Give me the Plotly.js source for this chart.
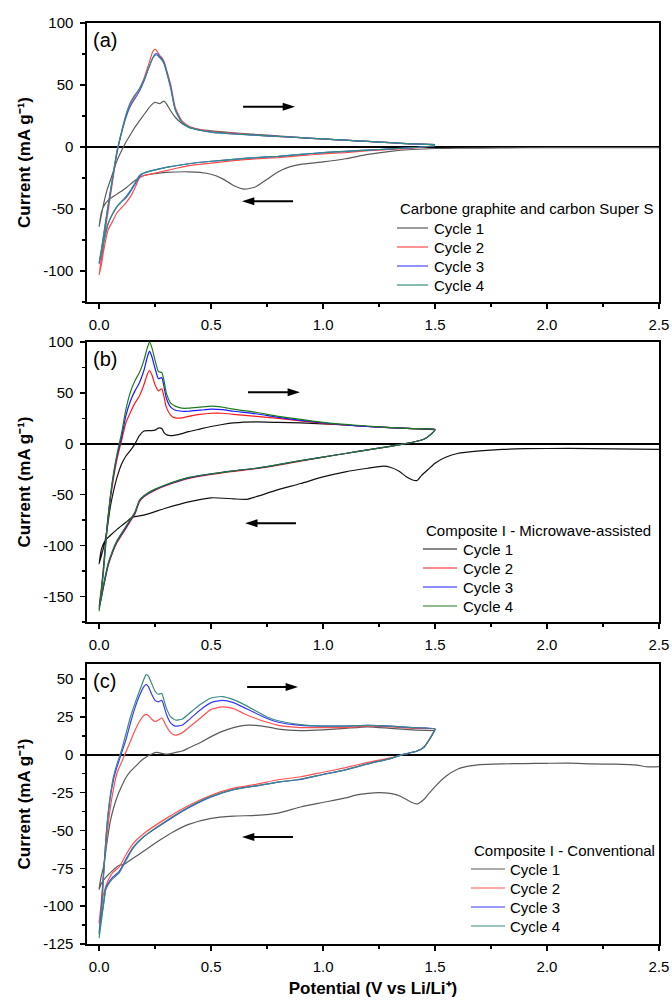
<!DOCTYPE html>
<html><head><meta charset="utf-8">
<script src="https://cdn.plot.ly/plotly-3.0.1.min.js"></script>
<style>html,body{margin:0;padding:0;background:#fff}#chart{width:672px;height:1000px}</style>
</head><body><div id="chart"></div>
<script>
// ---------- DATA ----------
const cycleNames = ['Cycle 1', 'Cycle 2', 'Cycle 3', 'Cycle 4'];
const legendTitles = ['Carbone graphite and carbon Super S', 'Composite I - Microwave-assisted', 'Composite I - Conventional'];
const panelLabels = ['(a)', '(b)', '(c)'];
const yTitle = 'Current (mA g\u207B\u00B9)';
const xTitle = 'Potential (V vs Li/Li\u207A)';
const xTickVals = [0, 0.5, 1, 1.5, 2, 2.5];
const xTickText = ['0.0', '0.5', '1.0', '1.5', '2.0', '2.5'];
const a_yTickVals = [-100, -50, 0, 50, 100];
const a_yTickText = ['-100', '-50', '0', '50', '100'];
const b_yTickVals = [-150, -100, -50, 0, 50, 100];
const b_yTickText = ['-150', '-100', '-50', '0', '50', '100'];
const c_yTickVals = [-125, -100, -75, -50, -25, 0, 25, 50];
const c_yTickText = ['-125', '-100', '-75', '-50', '-25', '0', '25', '50'];

// Panel (a): carbon graphite + Super S
const a_xCath1 = [2.5, 2.2, 2.0, 1.8, 1.6, 1.5, 1.4, 1.3, 1.2, 1.1, 1.0, 0.9, 0.85, 0.8, 0.75, 0.7, 0.65, 0.6, 0.55, 0.5, 0.45, 0.4, 0.3, 0.25, 0.2, 0.16, 0.12, 0.08, 0.04, 0.02, 0.01, 0];
const a_yCath1 = [-0.5, -0.5, -0.5, -0.7, -1, -1.2, -2, -3.5, -6, -9.5, -12, -14, -16, -20, -26, -32, -34, -31, -25.5, -22, -20.5, -20, -20.5, -21.5, -23, -27, -33, -38, -43, -48, -53, -64];
const a_xCath = [1.5, 1.4, 1.3, 1.2, 1.1, 1.0, 0.9, 0.8, 0.7, 0.6, 0.5, 0.4, 0.3, 0.25, 0.2, 0.18, 0.16, 0.14, 0.12, 0.1, 0.08, 0.06, 0.04, 0.02, 0.01, 0];
const a_yCath2 = [1, -1, -2, -3, -4.5, -5.5, -7, -8.5, -9.5, -11, -13, -15, -19, -21, -23, -25, -33, -40, -45, -49, -53, -60, -67, -84, -95, -103];
const a_yCath3 = [1, -0.5, -1.5, -2.5, -3.5, -4.5, -6, -7.5, -8.5, -10, -11.5, -13.5, -16.5, -18.5, -21, -24, -30, -36, -41, -44, -48, -54, -62, -77, -86, -94];
const a_yCath4 = [1, -0.5, -1.5, -2.5, -3.5, -4.5, -6, -7.5, -8.5, -10, -11.5, -13.5, -16.5, -18.5, -21, -23, -29, -35, -40, -44, -48, -54, -62, -77, -86, -93];
const a_xAnod = [0, 0.01, 0.02, 0.035, 0.05, 0.065, 0.08, 0.1, 0.12, 0.14, 0.16, 0.18, 0.2, 0.22, 0.24, 0.25, 0.26, 0.27, 0.28, 0.29, 0.30, 0.32, 0.34, 0.37, 0.40, 0.45, 0.5, 0.6, 0.75, 0.9, 1.0, 1.1, 1.2, 1.3, 1.4, 1.5];
const a_yAnod1 = [-64, -55, -46, -35, -27, -19, -11, -3, 4, 10, 16, 21, 26, 31, 35, 36, 35.5, 35, 36, 37, 35, 29, 24, 19, 16, 14, 13, 11.5, 9.5, 7.5, 6.5, 5.5, 4.5, 3.5, 2.5, 2];
const a_yAnod2 = [-103, -90, -78, -58, -40, -22, -5, 12, 25, 35, 41, 47, 55, 66, 77, 79, 77, 74, 72, 69, 63, 50, 32, 21, 17, 14, 12.5, 11, 9, 7.5, 6.5, 5.5, 4.5, 3.5, 2.5, 2];
const a_yAnod3 = [-94, -84, -72, -54, -37, -20, -4, 11, 24, 33, 39, 45, 53, 63, 72, 75, 75, 73, 71, 68, 62, 48, 30, 20, 16, 13.5, 12, 10.5, 9, 7.5, 6.5, 5.5, 4.5, 3.5, 2.5, 2];
const a_yAnod4 = [-93, -83, -71, -53, -36, -19, -3, 12, 26, 36, 42, 47, 54, 63, 72, 74, 74, 72, 70, 67, 61, 47, 30, 20, 16, 13.5, 12, 10.5, 9, 7.5, 6.5, 5.5, 4.5, 3.5, 2.5, 2];

// Panel (b): Composite I - Microwave-assisted
const b_xCath1 = [2.5, 2.3, 2.1, 1.9, 1.8, 1.7, 1.6, 1.55, 1.5, 1.47, 1.44, 1.42, 1.4, 1.37, 1.34, 1.3, 1.27, 1.2, 1.1, 1.0, 0.9, 0.8, 0.7, 0.66, 0.6, 0.5, 0.4, 0.3, 0.2, 0.15, 0.12, 0.08, 0.05, 0.03, 0.02, 0.01, 0];
const b_yCath1 = [-5.5, -5, -4.5, -4.8, -5.5, -7, -9.5, -13, -19, -25, -31, -36, -35.5, -32, -27, -23, -22, -24, -27.5, -32.5, -39, -45, -52, -54.5, -54, -53, -57, -63, -70, -72, -77, -84, -90, -94, -98, -104, -118];
const b_xCath = [1.5, 1.48, 1.45, 1.4, 1.35, 1.3, 1.2, 1.1, 1.0, 0.9, 0.8, 0.7, 0.6, 0.5, 0.4, 0.3, 0.25, 0.2, 0.18, 0.16, 0.14, 0.12, 0.1, 0.08, 0.06, 0.04, 0.02, 0.01, 0];
const b_yCath2 = [14, 9, 4.5, 1.5, -0.5, -2.5, -6, -9.5, -13, -17, -21, -24.5, -27, -30, -34, -41, -45.5, -52, -57, -69, -76, -83, -90, -97, -107, -120, -140, -151, -160];
const b_yCath3 = [14, 9, 4.5, 1.5, -0.5, -2.5, -6, -9.5, -13, -16.5, -20.5, -24, -26.5, -29.5, -33.5, -40.5, -45, -51.5, -56, -68, -75, -82, -89, -96, -106, -119, -140, -151, -162];
const b_yCath4 = [14, 9, 4.5, 1.5, -0.5, -2.5, -6, -9.5, -13, -16.5, -20.5, -24, -26.5, -29.5, -33, -40, -44.5, -51, -55.5, -67, -74, -81, -88, -95, -105, -118, -138, -150, -164];
const b_xAnod = [0, 0.01, 0.02, 0.035, 0.05, 0.065, 0.08, 0.1, 0.12, 0.14, 0.16, 0.18, 0.2, 0.215, 0.225, 0.235, 0.25, 0.265, 0.28, 0.29, 0.30, 0.32, 0.34, 0.37, 0.4, 0.45, 0.5, 0.55, 0.6, 0.7, 0.8, 0.9, 1.0, 1.1, 1.2, 1.3, 1.4, 1.5];
const b_yAnod1 = [-118, -110, -102, -85, -62, -46, -33, -20, -12, -6.5, 0, 8, 12.5, 13, 13, 13, 13.5, 15.5, 15, 11, 9, 8, 8.5, 10, 12, 14.5, 17, 19, 20.5, 21.5, 21, 20.5, 19.5, 18.5, 17, 16, 15, 14];
const b_yAnod2 = [-160, -142, -120, -83, -55, -33, -15, 3, 21, 31, 40, 47, 58, 68, 72, 68, 58, 52, 54, 46, 36, 28, 25.5, 25.5, 27, 29, 30, 30, 29, 27, 25, 22.5, 20, 18.5, 17, 16, 15, 14];
const b_yAnod3 = [-162, -145, -122, -82, -53, -30, -12, 6, 28, 42, 52, 60, 72, 85, 91, 86, 74, 64, 65, 56, 45, 36, 33, 32, 32, 33, 34, 33.5, 32, 29.5, 26, 23, 20.5, 18.5, 17, 16, 15, 14];
const b_yAnod4 = [-164, -145, -125, -85, -52, -28, -10, 10, 34, 51, 62, 70, 82, 94, 100, 95, 82, 71, 70, 62, 50, 40, 37, 35, 35, 36, 37, 36, 34, 31, 27, 24, 21, 19, 17.5, 16, 15, 14];

// Panel (c): Composite I - Conventional
const c_xCath1 = [2.5, 2.45, 2.4, 2.3, 2.2, 2.1, 2.0, 1.9, 1.8, 1.7, 1.65, 1.6, 1.55, 1.5, 1.47, 1.45, 1.42, 1.39, 1.36, 1.33, 1.3, 1.25, 1.2, 1.15, 1.1, 1.0, 0.9, 0.8, 0.7, 0.6, 0.5, 0.4, 0.33, 0.27, 0.2, 0.15, 0.11, 0.09, 0.06, 0.03, 0.01, 0];
const c_yCath1 = [-7.8, -8, -6.8, -6.2, -6, -5.5, -5.6, -5.8, -6, -6.5, -7.5, -9.5, -14, -21, -26, -29.5, -32.5, -31, -28.5, -26.5, -25.5, -25, -25.5, -26.5, -28.5, -31.5, -34.5, -38.5, -40, -40.5, -42, -46, -51, -56.5, -63.5, -68.5, -72.5, -73, -76.5, -81, -85, -89];
const c_xCath = [1.5, 1.49, 1.47, 1.45, 1.42, 1.38, 1.34, 1.3, 1.2, 1.1, 1.0, 0.9, 0.8, 0.7, 0.6, 0.5, 0.4, 0.3, 0.2, 0.15, 0.12, 0.09, 0.06, 0.04, 0.03, 0.02, 0.01, 0];
const c_yCath2 = [17, 14, 9, 5, 2.5, 1, -0.5, -2, -5, -8.5, -11.5, -14.5, -16.5, -19.5, -22, -26.7, -33.5, -42, -52, -59, -66, -74, -78, -83, -87, -92, -100, -111];
const c_yCath3 = [17, 14, 9, 5, 2.5, 1, -0.5, -2.5, -6, -10, -13, -16.3, -18, -20.5, -23, -27.8, -35, -44, -54, -61.5, -69, -77, -81, -85, -88, -98, -108, -118];
const c_yCath4 = [17, 14, 9, 5, 2.5, 1, -0.5, -2.5, -6, -10, -13, -16, -18, -20.5, -23, -27.5, -34.5, -43.5, -54, -62, -70, -78, -82, -86, -89, -99, -110, -121];
const c_xAnod = [0, 0.01, 0.02, 0.035, 0.05, 0.065, 0.08, 0.1, 0.12, 0.14, 0.16, 0.18, 0.2, 0.21, 0.22, 0.235, 0.25, 0.265, 0.28, 0.29, 0.3, 0.32, 0.34, 0.37, 0.4, 0.45, 0.5, 0.55, 0.6, 0.65, 0.7, 0.75, 0.8, 0.9, 1.0, 1.1, 1.2, 1.3, 1.4, 1.5];
const c_yAnod1 = [-89, -80, -74, -58, -44, -35, -28, -21, -15, -11, -8, -5, -2.5, -1.5, -0.5, 0.5, 1.5, 1.5, 1, 0.6, 0.4, 0.8, 1.5, 2.5, 4.5, 8, 12, 15.5, 18, 19.5, 19.5, 18.5, 17, 16, 16.5, 17.5, 18.5, 17.5, 16.5, 16];
const c_yAnod2 = [-111, -97, -78, -54, -35, -22, -12, -5, 2, 9, 16, 22, 26, 26.7, 26, 23.5, 22, 23, 24.5, 22, 19, 14.5, 13, 14.5, 18, 24, 30, 31.7, 30.5, 27, 24, 21.5, 19.5, 18, 18, 18, 19, 18.5, 17.5, 17];
const c_yAnod3 = [-118, -102, -78, -47, -28, -16, -8, 1, 10, 21, 31, 39, 45, 46.5, 45, 40, 36, 35, 36, 32, 27, 21, 19, 19.5, 23, 29.5, 34.5, 36, 34.5, 31, 27.5, 24, 21.5, 19.5, 19, 19, 19.5, 19, 18, 17];
const c_yAnod4 = [-121, -105, -80, -47, -27, -14, -6, 3, 14, 25, 34, 42, 50, 53, 52, 47, 42, 40, 40.5, 36, 31, 25, 23, 23.5, 27, 33, 37.5, 38.5, 36.5, 33, 29, 25, 22.5, 20, 19, 19, 19.5, 19, 18, 17];

// ---------- STYLE / LAYOUT ----------
const FONT = 'Liberation Sans, Arial, Helvetica, sans-serif';
const W = 672, H = 1000, ML = 87, MR = 13, MT = 23, MB = 56;
const PW = W - ML - MR, PH = H - MT - MB;
const px = v => (v - ML) / PW;
const py = v => (H - MB - v) / PH;

const panels = [
  { top: 23, bottom: 302, range: [-125, 100], ticks: [a_yTickVals, a_yTickText], minor: 25,
    colors: ['#5a5a5a', '#ff4a4a', '#4848ff', '#2f8f80'],
    curves: [[a_xCath1, a_yCath1, a_xAnod, a_yAnod1], [a_xCath, a_yCath2, a_xAnod, a_yAnod2], [a_xCath, a_yCath3, a_xAnod, a_yAnod3], [a_xCath, a_yCath4, a_xAnod, a_yAnod4]],
    arrows: [[0.643, 0.875, 32.5], [0.866, 0.638, -43.8]],
    legend: { x0: 397, x1: 428, tx: 432, titleY: 209, rows: [228, 247, 266, 285] } },
  { top: 342, bottom: 622, range: [-175, 100], ticks: [b_yTickVals, b_yTickText], minor: 25,
    colors: ['#111111', '#ff1a1a', '#1a1aff', '#1f7a1f'],
    curves: [[b_xCath1, b_yCath1, b_xAnod, b_yAnod1], [b_xCath, b_yCath2, b_xAnod, b_yAnod2], [b_xCath, b_yCath3, b_xAnod, b_yAnod3], [b_xCath, b_yCath4, b_xAnod, b_yAnod4]],
    arrows: [[0.665, 0.897, 50.6], [0.879, 0.652, -78]],
    legend: { x0: 423, x1: 457, tx: 461, titleY: 530, rows: [549, 568, 587, 606] } },
  { top: 664, bottom: 944, range: [-125, 60], ticks: [c_yTickVals, c_yTickText], minor: 12.5,
    colors: ['#5a5a5a', '#ff5050', '#3a3aff', '#3a8a80'],
    curves: [[c_xCath1, c_yCath1, c_xAnod, c_yAnod1], [c_xCath, c_yCath2, c_xAnod, c_yAnod2], [c_xCath, c_yCath3, c_xAnod, c_yAnod3], [c_xCath, c_yCath4, c_xAnod, c_yAnod4]],
    arrows: [[0.661, 0.888, 44.8], [0.866, 0.638, -54.3]],
    legend: { x0: 471, x1: 505, tx: 508, titleY: 850, rows: [869, 888, 907, 926] } }
];

const data = [];
const layout = {
  width: W, height: H,
  margin: { l: ML, r: MR, t: MT, b: MB, pad: 0 },
  paper_bgcolor: '#fff', plot_bgcolor: '#fff',
  font: { family: FONT, color: '#000', size: 15 },
  showlegend: false,
  annotations: [], shapes: []
};

panels.forEach((p, i) => {
  const n = i === 0 ? '' : String(i + 1);
  const xa = 'x' + n, ya = 'y' + n;
  p.curves.forEach((c, k) => {
    const [xc, yc, xan, yan] = c;
    data.push({
      type: 'scatter', mode: 'lines', xaxis: xa, yaxis: ya, name: cycleNames[k],
      x: xc.concat(xan.slice(1)), y: yc.concat(yan.slice(1)),
      line: { color: p.colors[k], width: 1.2, shape: 'spline', smoothing: 0.55 },
      hoverinfo: 'skip', showlegend: false
    });
  });
  // sweep-direction arrows (line + arrow-head marker at the end)
  p.arrows.forEach(a => {
    data.push({
      type: 'scatter', mode: 'lines+markers', xaxis: xa, yaxis: ya,
      x: [a[0], a[1]], y: [a[2], a[2]],
      line: { color: '#000', width: 2 },
      marker: { symbol: 'arrow', size: 13, angleref: 'previous', color: '#000', line: { width: 0 } },
      hoverinfo: 'skip', showlegend: false
    });
  });
  layout['xaxis' + n] = {
    domain: [0, 1], anchor: ya, range: [-0.054, 2.5],
    tickmode: 'array', tickvals: xTickVals, ticktext: xTickText,
    ticks: 'outside', ticklen: 5, tickwidth: 1.5, tickcolor: '#000',
    minor: { dtick: 0.25, tick0: 0, ticks: 'outside', ticklen: 3, tickwidth: 1.5, tickcolor: '#000', showgrid: false },
    showline: true, linecolor: '#000', linewidth: 1.6, mirror: true,
    showgrid: false, zeroline: false, ticklabelstandoff: 3,
    tickfont: { size: 15, family: FONT, color: '#000' }
  };
  layout['yaxis' + n] = {
    domain: [py(p.bottom), py(p.top)], anchor: xa, range: p.range,
    tickmode: 'array', tickvals: p.ticks[0], ticktext: p.ticks[1],
    ticks: 'outside', ticklen: 5, tickwidth: 1.5, tickcolor: '#000',
    minor: { dtick: p.minor, tick0: 0, ticks: 'outside', ticklen: 3, tickwidth: 1.5, tickcolor: '#000', showgrid: false },
    showline: true, linecolor: '#000', linewidth: 1.6, mirror: true,
    showgrid: false, zeroline: true, zerolinecolor: '#000', zerolinewidth: 1.5,
    ticklabelstandoff: 4,
    tickfont: { size: 15, family: FONT, color: '#000' },
    title: { text: yTitle, font: { size: 17, family: FONT, color: '#000', weight: 'bold' }, standoff: 8 }
  };
  if (i === 2) {
    layout['xaxis' + n].title = { text: xTitle, font: { size: 17, family: FONT, color: '#000', weight: 'bold' }, standoff: 8 };
  }
  // panel label
  layout.annotations.push({
    xref: 'paper', yref: 'paper', x: px(91), y: py(p.top + 4), xanchor: 'left', yanchor: 'top',
    text: panelLabels[i], showarrow: false, font: { size: 20, family: FONT, color: '#000' }
  });
  // legend
  const L = p.legend;
  layout.annotations.push({
    xref: 'paper', yref: 'paper', x: px(L.x0 + 1), y: py(L.titleY), xanchor: 'left', yanchor: 'middle',
    text: legendTitles[i], showarrow: false, font: { size: 15, family: FONT, color: '#000' }
  });
  L.rows.forEach((ry, k) => {
    layout.shapes.push({
      type: 'line', xref: 'paper', yref: 'paper', x0: px(L.x0), x1: px(L.x1), y0: py(ry), y1: py(ry),
      line: { color: p.colors[k], width: 1.2 }
    });
    layout.annotations.push({
      xref: 'paper', yref: 'paper', x: px(L.tx), y: py(ry), xanchor: 'left', yanchor: 'middle',
      text: cycleNames[k], showarrow: false, font: { size: 15, family: FONT, color: '#000' }
    });
  });
});

Plotly.newPlot('chart', data, layout, { staticPlot: true, displayModeBar: false });
</script>
</body></html>
